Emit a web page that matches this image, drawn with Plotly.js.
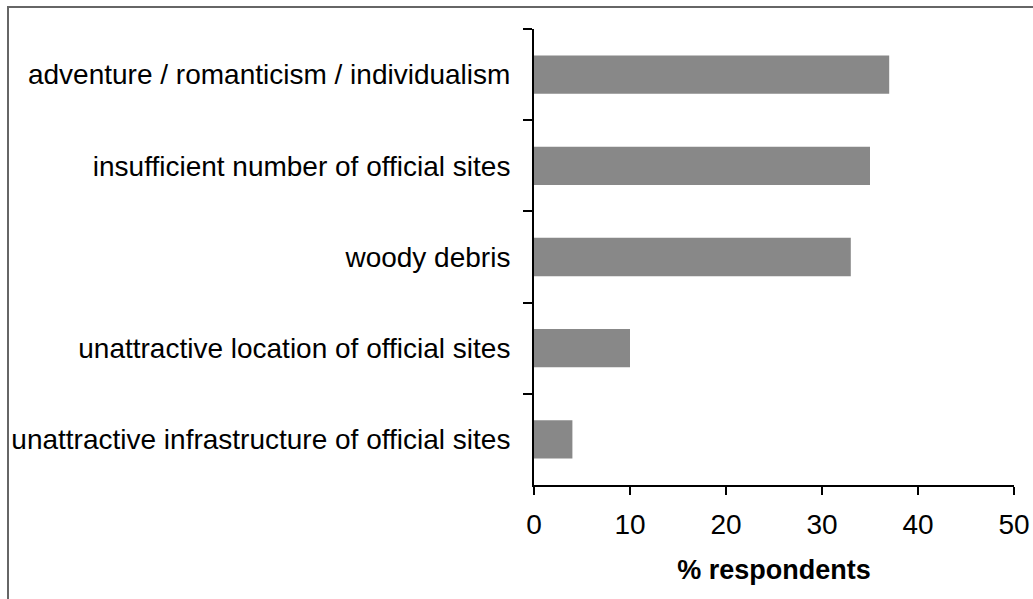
<!DOCTYPE html>
<html>
<head>
<meta charset="utf-8">
<script src="https://cdn.plot.ly/plotly-3.0.1.min.js"></script>
<style>
  html, body { margin: 0; padding: 0; background: #fff; overflow: hidden; }
  #chart { width: 1033px; height: 599px; }
  #frame { position: absolute; left: 7px; top: 6px; width: 1100px; height: 700px;
           border-top: 2px solid #666; border-left: 2px solid #666; pointer-events: none; }
</style>
</head>
<body>
<div id="chart"></div>
<div id="frame"></div>
<script>
const categories = [
  "adventure / romanticism / individualism",
  "insufficient number of official sites",
  "woody debris",
  "unattractive location of official sites",
  "unattractive infrastructure of official sites"
];
const values = [37, 35, 33, 10, 4];
const xTickValues = [0, 10, 20, 30, 40, 50];
const xAxisTitle = "% respondents";

const trace = {
  type: "bar",
  orientation: "h",
  x: values,
  y: categories,
  marker: { color: "#888888", line: { width: 0 } },
  hoverinfo: "x+y"
};

const layout = {
  width: 1033,
  height: 599,
  margin: { l: 534, r: 19, t: 29, b: 114 },
  paper_bgcolor: "#ffffff",
  plot_bgcolor: "#ffffff",
  font: { family: "Liberation Sans, Arial, sans-serif", size: 28, color: "#000" },
  bargap: 0.58,
  showlegend: false,
  xaxis: {
    range: [0, 50],
    tickvals: xTickValues,
    ticktext: xTickValues.map(String),
    ticks: "outside",
    ticklen: 8,
    tickwidth: 2,
    tickcolor: "#000",
    showline: true,
    linecolor: "#000",
    linewidth: 2,
    showgrid: false,
    zeroline: false,
    ticklabelstandoff: 5,
    tickfont: { size: 28 },
    title: { text: "<b>" + xAxisTitle + "</b>", font: { size: 27 }, standoff: 22 }
  },
  yaxis: {
    type: "category",
    autorange: "reversed",
    ticks: "outside",
    tickson: "boundaries",
    ticklen: 9,
    tickwidth: 2,
    tickcolor: "#000",
    showline: true,
    linecolor: "#000",
    linewidth: 2,
    showgrid: false,
    zeroline: false,
    ticklabelstandoff: 16,
    tickfont: { size: 28 }
  }
};

Plotly.newPlot("chart", [trace], layout, { displayModeBar: false, staticPlot: true });
</script>
</body>
</html>
